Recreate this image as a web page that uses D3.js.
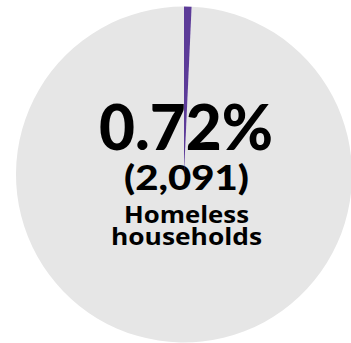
<!DOCTYPE html>
<html>
<head>
<meta charset="utf-8">
<script src="https://cdn.jsdelivr.net/npm/d3@7"></script>
<style>
  html, body { margin: 0; padding: 0; background: #fff; }
  svg { display: block; }
</style>
</head>
<body>
<div id="chart"></div>
<script>
// share of households
var categories = ['Homeless households', 'Other households'];
var shares = [0.72, 99.28];
var counts = [2091];
var colors = ['#5c3b98', '#e6e6e6'];

var width = 351, height = 343;
var cx = 184, cy = 174.5, radius = 168;

var svg = d3.select('#chart').append('svg')
  .attr('width', width)
  .attr('height', height);

var g = svg.append('g')
  .attr('transform', 'translate(' + cx + ',' + cy + ')');

var pie = d3.pie().sort(null).value(function (d) { return d; });
var arcs = pie(shares);
var arc = d3.arc().innerRadius(0).outerRadius(radius);

// gray background slice first
g.append('path')
  .attr('d', arc(arcs[1]))
  .attr('fill', colors[1]);

// centre labels
var labels = g.append('g').attr('fill', '#000').attr('text-anchor', 'middle');

labels.append('text')
  .attr('x', 2)
  .attr('y', -24.5)
  .attr('textLength', 174)
  .attr('lengthAdjust', 'spacingAndGlyphs')
  .style('font-family', 'Lato, sans-serif')
  .style('font-weight', 900)
  .style('font-size', '63px')
  .text(d3.format('.2f')(shares[0]) + '%');

labels.append('text')
  .attr('x', 2.5)
  .attr('y', 15.5)
  .attr('textLength', 125)
  .attr('lengthAdjust', 'spacingAndGlyphs')
  .style('font-family', 'Lato, sans-serif')
  .style('font-weight', 900)
  .style('font-size', '34px')
  .text('(' + d3.format(',')(counts[0]) + ')');

var words = categories[0].split(' ');
labels.selectAll('text.cat')
  .data(words)
  .enter().append('text')
  .attr('class', 'cat')
  .attr('x', 2.5)
  .attr('y', function (d, i) { return 48.5 + i * 22; })
  .attr('textLength', function (d, i) { return i === 0 ? 125 : 151; })
  .attr('lengthAdjust', 'spacingAndGlyphs')
  .style('font-family', '"Open Sans", sans-serif')
  .style('font-weight', 700)
  .style('font-size', '23px')
  .text(function (d) { return d; });

// purple slice on top of the text
g.append('path')
  .attr('d', arc(arcs[0]))
  .attr('fill', colors[0]);
</script>
</body>
</html>
